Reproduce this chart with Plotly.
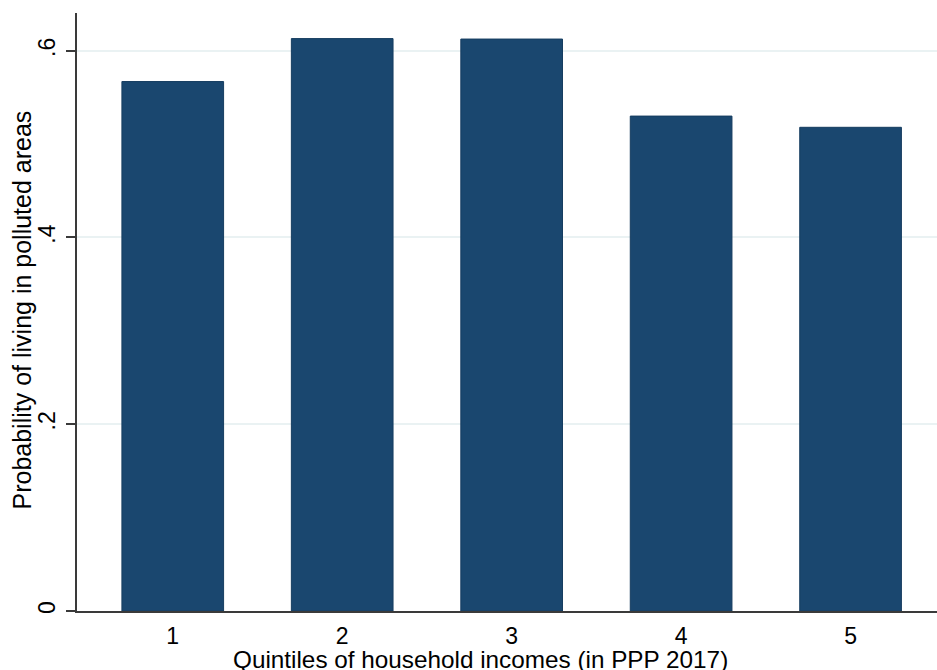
import plotly.graph_objects as go

quintiles = [1, 2, 3, 4, 5]
probability = [0.567, 0.613, 0.6125, 0.530, 0.518]
y_ticks = [0, 0.2, 0.4, 0.6]
y_tick_labels = ["0", ".2", ".4", ".6"]
x_title = "Quintiles of household incomes (in PPP 2017)"
y_title = "Probability of living in polluted areas"

W, H = 937, 670
L, R, T, B = 77, 0, 13, 59
pw, ph = W - L - R, H - T - B

fig = go.Figure(go.Bar(
    x=quintiles, y=probability, width=0.6,
    marker=dict(color="#1a476f", line=dict(color="#163d60", width=1)),
))

font = "Liberation Sans, Arial, sans-serif"
fig.update_layout(
    width=W, height=H,
    margin=dict(l=L, r=R, t=T, b=B),
    paper_bgcolor="white", plot_bgcolor="white",
    font=dict(family=font, size=23, color="black"),
    showlegend=False,
    xaxis=dict(
        range=[0.435, 5.51], tickvals=quintiles, ticktext=[str(q) for q in quintiles],
        showline=True, linecolor="#3a3a3a", linewidth=1.5, ticks="",
        showgrid=False, zeroline=False, tickfont=dict(size=23),
        ticklabelstandoff=4,
    ),
    yaxis=dict(
        range=[0, 0.6404], tickvals=y_ticks, ticktext=y_tick_labels,
        tickangle=-90, ticks="outside", ticklen=9, tickwidth=1.5, tickcolor="#3a3a3a",
        showline=True, linecolor="#3a3a3a", linewidth=1.5,
        showgrid=True, gridcolor="#eaf2f3", gridwidth=1.5, zeroline=False,
        tickfont=dict(size=23), ticklabelstandoff=2,
    ),
    annotations=[
        dict(text=x_title, xref="paper", yref="paper",
             x=(480 - L) / pw, y=(611 - 659) / ph, xanchor="center", yanchor="middle",
             showarrow=False, font=dict(size=24.3)),
        dict(text=y_title, xref="paper", yref="paper", textangle=-90,
             x=(22 - L) / pw, y=(611 - 310.5) / ph, xanchor="center", yanchor="middle",
             showarrow=False, font=dict(size=25)),
    ],
)

fig.write_html("out.html", config={"displayModeBar": False},
               post_script="document.body.style.margin='0';document.body.style.overflow='hidden';")
